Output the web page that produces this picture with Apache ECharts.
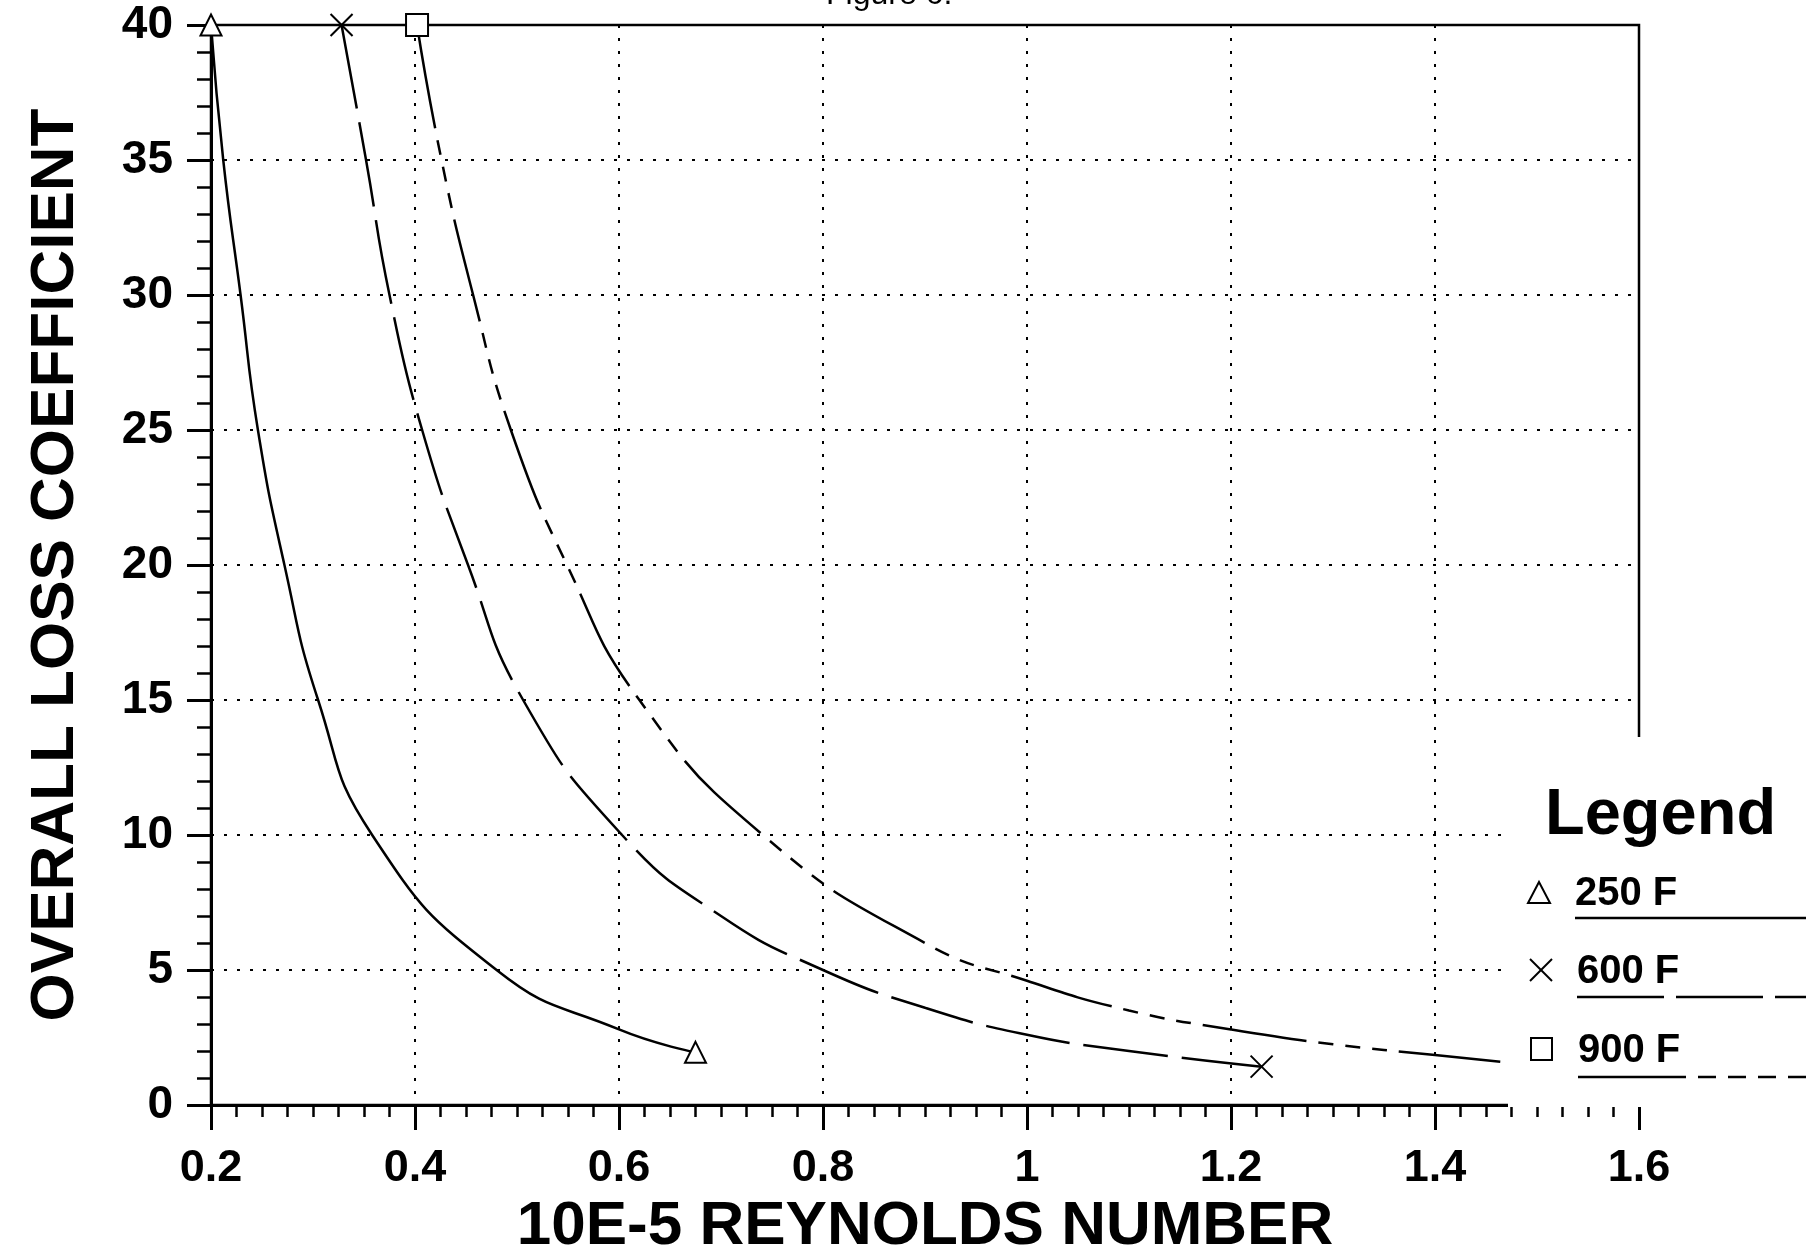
<!DOCTYPE html>
<html><head><meta charset="utf-8">
<script src="https://cdn.jsdelivr.net/npm/echarts@6/dist/echarts.min.js"></script>
<style>html,body{margin:0;padding:0;background:#fff}#c{width:1806px;height:1255px}</style>
</head><body><div id="c"></div>
<script>
// ---- data ----
const seriesNames = ['250 F', '600 F', '900 F'];
// 250 F (solid)
const re250 = [0.200, 0.212, 0.229, 0.246, 0.272, 0.305, 0.358, 0.480, 0.600, 0.675];
const k250  = [40, 35, 30, 25, 20, 15, 10, 5.0, 2.8, 1.95];
// 600 F (long dash)
const re600 = [0.328, 0.352, 0.375, 0.407, 0.452, 0.506, 0.603, 0.700, 0.800, 0.900, 1.000, 1.100, 1.230];
const k600  = [40, 35, 30, 25, 20, 15, 10, 7.0, 5.0, 3.6, 2.6, 2.0, 1.42];
// 900 F (short dash)
const re900 = [0.402, 0.426, 0.457, 0.494, 0.549, 0.620, 0.741, 0.900, 1.000, 1.100, 1.200, 1.300, 1.400, 1.464];
const k900  = [40, 35, 30, 25, 20, 15, 10, 6.0, 4.6, 3.5, 2.8, 2.25, 1.85, 1.6];
// axes
const xMin = 0.2, xMax = 1.6, xStep = 0.2;
const yMin = 0, yMax = 40, yStep = 5;

const FONT = 'Liberation Sans, Arial, Helvetica, sans-serif';
const pairs = (xs, ys) => xs.map((x, i) => [x, ys[i]]);
const ends = (xs, ys) => [[xs[0], ys[0]], [xs[xs.length - 1], ys[ys.length - 1]]];
const xPath = 'path://M0,0L10,10M10,0L0,10';

const lineSeries = (name, data, type) => ({
  name, type: 'line', data, symbol: 'none', smooth: 0.5, clip: false,
  lineStyle: {color: '#000', width: 2.5, type: type}, z: 3
});
const markSeries = (name, data, symbol, size) => ({
  name, type: 'scatter', data, symbol, symbolSize: size, clip: false,
  itemStyle: {color: symbol === xPath ? 'rgba(0,0,0,0)' : '#fff', borderColor: '#000', borderWidth: 2, opacity: 1},
  z: 4
});

const chart = echarts.init(document.getElementById('c'), null, {renderer: 'canvas'});
chart.setOption({
  backgroundColor: '#fff',
  animation: false,
  grid: {left: 211, right: 167, top: 25, bottom: 150, containLabel: false, outerBoundsMode: 'none',
    show: true, borderColor: '#000', borderWidth: 2.5, backgroundColor: 'transparent'},
  xAxis: {
    type: 'value', min: xMin, max: xMax, interval: xStep,
    name: '10E-5 REYNOLDS NUMBER', nameLocation: 'middle', nameGap: 89,
    nameTextStyle: {fontFamily: FONT, fontWeight: 'bold', fontSize: 62, color: '#000'},
    axisLine: {show: true, lineStyle: {color: '#000', width: 3}},
    axisTick: {show: true, length: 25, lineStyle: {color: '#000', width: 3}},
    minorTick: {show: true, splitNumber: 8, length: 12, lineStyle: {color: '#000', width: 2.5}},
    axisLabel: {margin: 41, fontFamily: FONT, fontWeight: 'bold', fontSize: 45, color: '#000',
      formatter: v => String(Math.round(v * 10) / 10)},
    splitLine: {show: true, lineStyle: {color: '#000', width: 2, type: [3, 10]}},
    minorSplitLine: {show: false}
  },
  yAxis: {
    type: 'value', min: yMin, max: yMax, interval: yStep,
    name: 'OVERALL LOSS COEFFICIENT', nameLocation: 'middle', nameGap: 124,
    nameTextStyle: {fontFamily: FONT, fontWeight: 'bold', fontSize: 62, color: '#000'},
    axisLine: {show: true, lineStyle: {color: '#000', width: 3}},
    axisTick: {show: true, length: 24, lineStyle: {color: '#000', width: 3}},
    minorTick: {show: true, splitNumber: 5, length: 14, lineStyle: {color: '#000', width: 2.5}},
    axisLabel: {margin: 38, fontFamily: FONT, fontWeight: 'bold', fontSize: 46, color: '#000'},
    splitLine: {show: true, lineStyle: {color: '#000', width: 2, type: [3, 10]}},
    minorSplitLine: {show: false}
  },
  series: [
    lineSeries(seriesNames[0], pairs(re250, k250), 'solid'),
    lineSeries(seriesNames[1], pairs(re600, k600), [85, 14]),
    lineSeries(seriesNames[2], pairs(re900, k900), [105, 12, 15, 12, 15, 12, 15, 12]),
    markSeries(seriesNames[0], ends(re250, k250), 'triangle', [21, 21]),
    markSeries(seriesNames[1], ends(re600, k600), xPath, 22),
    markSeries(seriesNames[2], [[re900[0], k900[0]]], 'rect', 22)
  ],
  graphic: [
    {type: 'text', z: 50, style: {x: 826, y: 11, text: 'Figure 6.', font: '32px ' + FONT, fill: '#000', verticalAlign: 'bottom'}},
    // legend box (covers lower-right part of the frame)
    {type: 'rect', z: 100, shape: {x: 1508, y: 737, width: 300, height: 370}, style: {fill: '#fff'}},
    {type: 'text', z: 101, style: {x: 1545, y: 816, text: 'Legend', font: 'bold 65px ' + FONT, fill: '#000', verticalAlign: 'middle'}},
    // 250 F
    {type: 'polygon', z: 101, shape: {points: [[1539, 882], [1550, 903], [1528, 903]]}, style: {fill: 'none', stroke: '#000', lineWidth: 2}},
    {type: 'text', z: 101, style: {x: 1575, y: 894, text: seriesNames[0], font: 'bold 40px ' + FONT, fill: '#000', verticalAlign: 'middle'}},
    {type: 'line', z: 101, shape: {x1: 1575, y1: 918, x2: 1806, y2: 918}, style: {stroke: '#000', lineWidth: 2.5}},
    // 600 F
    {type: 'line', z: 101, shape: {x1: 1530, y1: 959, x2: 1552, y2: 981}, style: {stroke: '#000', lineWidth: 2}},
    {type: 'line', z: 101, shape: {x1: 1530, y1: 981, x2: 1552, y2: 959}, style: {stroke: '#000', lineWidth: 2}},
    {type: 'text', z: 101, style: {x: 1577, y: 972, text: seriesNames[1], font: 'bold 40px ' + FONT, fill: '#000', verticalAlign: 'middle'}},
    {type: 'line', z: 101, shape: {x1: 1577, y1: 997, x2: 1806, y2: 997}, style: {stroke: '#000', lineWidth: 2.5, lineDash: [87, 12]}},
    // 900 F
    {type: 'rect', z: 101, shape: {x: 1531, y: 1038, width: 21, height: 22}, style: {fill: 'none', stroke: '#000', lineWidth: 2}},
    {type: 'text', z: 101, style: {x: 1578, y: 1051, text: seriesNames[2], font: 'bold 40px ' + FONT, fill: '#000', verticalAlign: 'middle'}},
    {type: 'line', z: 101, shape: {x1: 1578, y1: 1077, x2: 1806, y2: 1077}, style: {stroke: '#000', lineWidth: 2.5, lineDash: [108, 12, 18, 12, 18, 12, 18, 12]}}
  ]
});
</script></body></html>
